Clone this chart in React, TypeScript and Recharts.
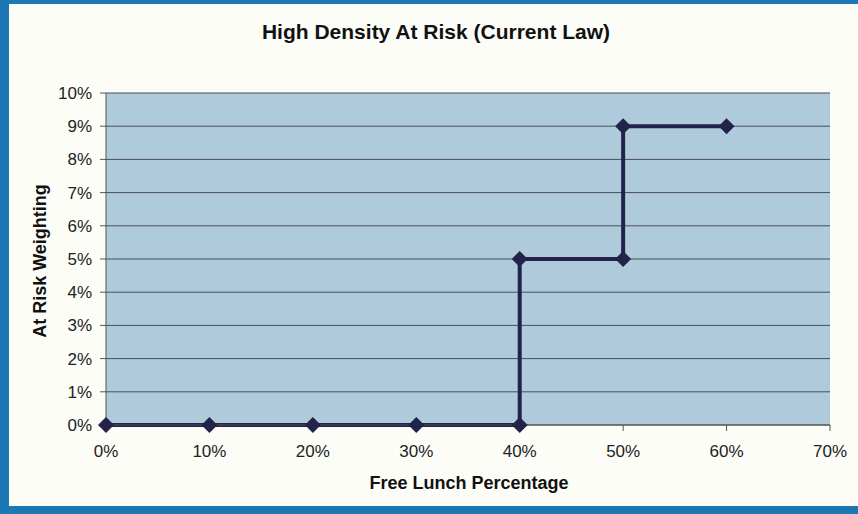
import React from 'react';
import { LineChart, Line, XAxis, YAxis, CartesianGrid } from 'recharts';

const freeLunch = [0, 10, 20, 30, 40, 40, 50, 50, 60];
const atRisk = [0, 0, 0, 0, 0, 5, 5, 9, 9];
const xTicks = [0, 10, 20, 30, 40, 50, 60, 70];
const yTicks = [0, 1, 2, 3, 4, 5, 6, 7, 8, 9, 10];

const data = freeLunch.map((x, i) => ({ x, y: atRisk[i] }));

const Diamond = (props: any) => {
  const { cx, cy } = props;
  if (cx == null || cy == null) return null;
  const r = 8;
  return (
    <path
      d={`M${cx},${cy - r} L${cx + r},${cy} L${cx},${cy + r} L${cx - r},${cy} Z`}
      fill="#22224a"
    />
  );
};

const font = 'Arial, "Liberation Sans", sans-serif';

const App = () => {
  return (
    <div
      style={{
        position: 'absolute',
        left: 0,
        top: 0,
        width: 858,
        height: 514,
        background: '#1c78b4',
        overflow: 'hidden',
        fontFamily: font,
      }}
    >
      <div
        style={{
          position: 'absolute',
          left: 9,
          top: 4,
          width: 849,
          height: 502,
          background: '#fdfdf8',
        }}
      />
      <div
        style={{
          position: 'absolute',
          left: 0,
          top: 20,
          width: 872,
          textAlign: 'center',
          fontWeight: 'bold',
          fontSize: 21,
          color: '#111',
        }}
      >
        High Density At Risk (Current Law)
      </div>
      <div
        style={{
          position: 'absolute',
          left: 0,
          top: 473,
          width: 938,
          textAlign: 'center',
          fontWeight: 'bold',
          fontSize: 18,
          color: '#111',
        }}
      >
        Free Lunch Percentage
      </div>
      <div
        style={{
          position: 'absolute',
          left: 40,
          top: 261,
          transform: 'translate(-50%, -50%) rotate(-90deg)',
          whiteSpace: 'nowrap',
          fontWeight: 'bold',
          fontSize: 18,
          color: '#111',
        }}
      >
        At Risk Weighting
      </div>
      <div style={{ position: 'absolute', left: 0, top: 0 }}>
        <LineChart
          width={858}
          height={514}
          data={data}
          margin={{ top: 93, right: 28, bottom: 59, left: 46 }}
        >
          <CartesianGrid vertical={false} stroke="#4a4e52" fill="#afcbdb" />
          <XAxis
            type="number"
            dataKey="x"
            domain={[0, 70]}
            ticks={xTicks}
            tickFormatter={(v) => `${v}%`}
            height={30}
            tickSize={6}
            stroke="#555"
            tick={{ fill: '#222', fontSize: 17, fontFamily: font }}
            tickMargin={14}
          />
          <YAxis
            type="number"
            domain={[0, 10]}
            ticks={yTicks}
            tickFormatter={(v) => `${v}%`}
            width={60}
            tickSize={6}
            stroke="#555"
            tick={{ fill: '#222', fontSize: 17, fontFamily: font }}
            tickMargin={8}
          />
          <Line
            type="linear"
            dataKey="y"
            stroke="#22224a"
            strokeWidth={4}
            dot={<Diamond />}
            activeDot={false}
            isAnimationActive={false}
          />
        </LineChart>
      </div>
    </div>
  );
};

export default App;
